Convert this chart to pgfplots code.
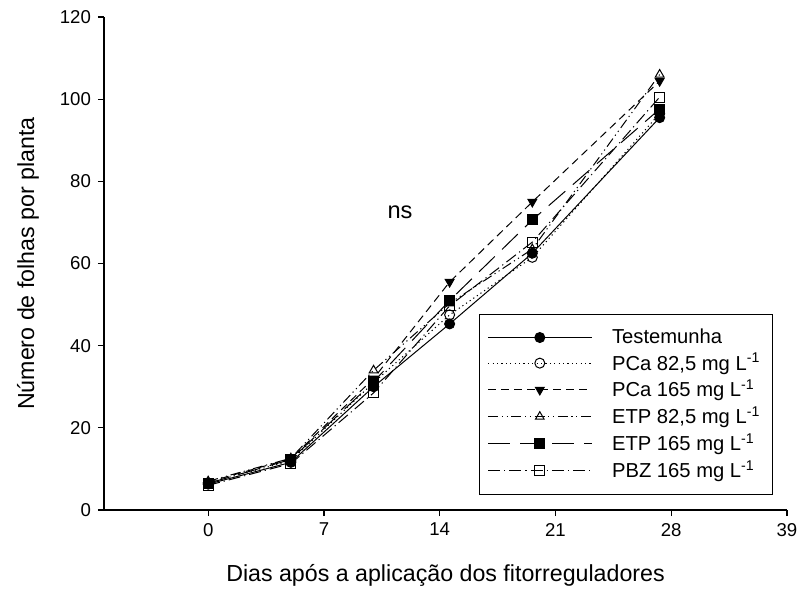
\documentclass[border=0pt]{standalone}
\usepackage{fontspec}
\setmainfont{Liberation Sans}
\usepackage{pgfplots}
\pgfplotsset{compat=1.18}

\pgfplotsset{
  legline/.style={legend image code/.code={
    \draw[mark repeat=2,mark phase=2] plot coordinates {(0pt,0pt) (25.8pt,0pt) (51.7pt,0pt)};}},
}

\begin{document}
\begin{tikzpicture}
\begin{axis}[
    at={(0,0)}, anchor=south west,
    scale only axis, width=341.5pt, height=246.5pt,
    xmin=-6.3, xmax=35, ymin=0, ymax=120,
    axis lines=left, axis line style={-, line width=0.7pt},
    xtick={0,7,14,21,28,35}, xticklabels={0,7,14,21,28,39},
    ytick={0,20,...,120},
    tick align=outside, major tick length=3pt,
    tick style={black, line width=0.6pt},
    /pgf/number format/assume math mode=true,
    ticklabel style={font=\fontsize{9.3}{11}\selectfont},
    xlabel={Dias após a aplicação dos fitorreguladores},
    ylabel={Número de folhas por planta},
    label style={font=\fontsize{11.6}{13}\selectfont},
    xlabel style={at={(axis description cs:0.5,0)}, anchor=center, yshift=-32.5pt},
    ylabel style={at={(axis description cs:0,0.5)}, anchor=center, yshift=38pt},
    legline,
    legend cell align=left,
    legend style={at={(0.549,0.0304)}, anchor=south west, draw=black, line width=0.75pt,
      font=\fontsize{10.1}{11}\selectfont, row sep=-0.6pt, inner xsep=4pt, inner ysep=5pt,
      /tikz/every odd column/.append style={column sep=8pt}},
    every axis plot/.append style={black, line width=0.5pt, mark size=2.5pt},
    clip=false,
]
\addplot[solid, mark=*, mark options={solid}] coordinates {
  (0,6.3) (5,11.6) (10,30.0) (14.6,45.3) (19.6,62.5) (27.3,95.5)};
\addlegendentry{Testemunha}
\addplot[dash pattern=on 0.6pt off 1.6pt, mark=o, mark options={solid, fill=white}] coordinates {
  (0,6.6) (5,12.0) (10,31.0) (14.6,47.5) (19.6,61.5) (27.3,96.5)};
\addlegendentry{PCa 82,5 mg L\textsuperscript{-1}}
\addplot[dash pattern=on 4pt off 2.5pt, mark=triangle*, mark options={solid, rotate=180}] coordinates {
  (0,6.8) (5,12.5) (10,32.0) (14.6,55.5) (19.6,75.0) (27.3,104.4)};
\addlegendentry{PCa 165 mg L\textsuperscript{-1}}
\addplot[dash pattern=on 5pt off 1.8pt on 0.6pt off 1.8pt on 0.6pt off 1.8pt, mark=triangle, mark options={solid, fill=white}] coordinates {
  (0,7.0) (5,12.6) (10,34.0) (14.6,50.3) (19.6,63.5) (27.3,106.0)};
\addlegendentry{ETP 82,5 mg L\textsuperscript{-1}}
\addplot[dash pattern=on 11pt off 5pt, mark=square*, mark options={solid}] coordinates {
  (0,6.5) (5,12.3) (10,31.2) (14.6,51.0) (19.6,70.6) (27.3,97.6)};
\addlegendentry{ETP 165 mg L\textsuperscript{-1}}
\addplot[dash pattern=on 6pt off 2pt on 0.6pt off 2pt, mark=square, mark options={solid, fill=white}] coordinates {
  (0,6.0) (5,11.3) (10,28.5) (14.6,49.7) (19.6,65.2) (27.3,100.5)};
\addlegendentry{PBZ 165 mg L\textsuperscript{-1}}
\node[font=\fontsize{11.8}{14}\selectfont] at (axis cs:11.6,72.5) {ns};
\end{axis}
\pgfresetboundingbox
\useasboundingbox (-52pt,-40pt) rectangle (348pt,255pt);
\end{tikzpicture}
\end{document}
